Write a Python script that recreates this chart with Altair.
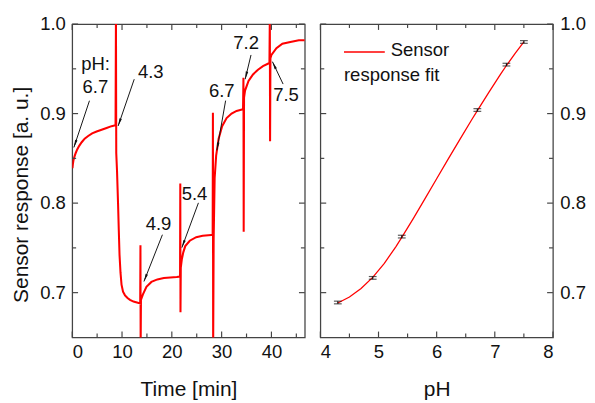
import math
import altair as alt
import pandas as pd

# ---------------- data ----------------
time_min = [0.05, 0.12, 0.25, 0.45, 0.7, 1.0, 1.4, 1.9, 2.5, 3.2, 4.0, 4.9, 5.9, 6.9, 7.9, 8.7,
            8.78, 8.84, 9.0, 9.2, 9.35, 9.5, 9.7, 9.9, 10.2, 10.6, 11.1, 11.6, 12.3, 13.0, 13.65,
            13.7, 13.74, 13.8, 14.2, 14.9, 15.9, 17.1, 18.4, 19.7, 21.0, 21.65,
            21.7, 21.74, 21.8, 22.0, 22.3, 22.7, 23.6, 24.9, 26.2, 27.9, 28.2,
            28.25, 28.3, 28.4, 28.6, 28.9, 29.4, 30.1, 31.0, 32.0, 33.0, 34.3,
            34.38, 34.43, 34.5, 34.7, 35.4, 36.3, 37.3, 38.3, 39.6,
            39.68, 39.73, 39.8, 40.0, 41.0, 42.2, 43.8, 45.5, 46.7]
response = [0.839, 0.843, 0.848, 0.852, 0.856, 0.860, 0.864, 0.868, 0.872, 0.875, 0.878, 0.880, 0.882, 0.884, 0.886, 0.887,
            1.01, 0.856, 0.835, 0.800, 0.770, 0.742, 0.722, 0.709, 0.701, 0.697, 0.694, 0.692, 0.690, 0.689, 0.688,
            0.753, 0.640, 0.692, 0.698, 0.7065, 0.712, 0.7148, 0.7163, 0.717, 0.7175, 0.718,
            0.822, 0.678, 0.728, 0.737, 0.745, 0.752, 0.758, 0.762, 0.7635, 0.7645, 0.7645,
            0.901, 0.640, 0.760, 0.828, 0.853, 0.872, 0.886, 0.895, 0.900, 0.903, 0.905,
            0.940, 0.768, 0.918, 0.9257, 0.9365, 0.9438, 0.949, 0.953, 0.9565,
            1.01, 0.869, 0.962, 0.9655, 0.973, 0.978, 0.980, 0.982, 0.982]

ph_points = [4.3, 4.9, 5.4, 6.7, 7.2, 7.5]
resp_points = [0.689, 0.7165, 0.7626, 0.904, 0.9547, 0.980]
resp_err = [0.0015, 0.0015, 0.0015, 0.0015, 0.0015, 0.0015]

fit_ph = [4.3, 4.5, 4.7, 4.9, 5.1, 5.3, 5.4, 5.6, 5.8, 6.0, 6.2, 6.4, 6.6, 6.7, 6.9, 7.1, 7.2, 7.35, 7.5]
fit_resp = [0.6885, 0.6951, 0.7047, 0.7171, 0.7327, 0.7515, 0.7618, 0.7830, 0.8050, 0.8272,
            0.8494, 0.8712, 0.8928, 0.9034, 0.9240, 0.9440, 0.9537, 0.9672, 0.9800]

ann_labels = ["pH:", "6.7", "4.3", "4.9", "5.4", "6.7", "7.2", "7.5"]
ann_t = [4.7, 4.65, 15.77, 17.33, 24.56, 30.03, 34.91, 42.93]
ann_v = [0.955, 0.930, 0.946, 0.7764, 0.8101, 0.9253, 0.9786, 0.921]

arrow_t0 = [3.46, 12.45, 18.11, 25.34, 30.8, 35.9, 42.34]
arrow_v0 = [0.9144, 0.9384, 0.7647, 0.8003, 0.9145, 0.9655, 0.933]
arrow_t1 = [0.33, 9.22, 14.4, 22.02, 29.05, 34.73, 40.2]
arrow_v1 = [0.8622, 0.8862, 0.7125, 0.7503, 0.859, 0.9384, 0.958]

time_ticks_major = [0, 10, 20, 30, 40]
time_ticks_minor = [5, 15, 25, 35, 45]
ph_ticks_major = [4, 5, 6, 7, 8]
ph_ticks_minor = [4.5, 5.5, 6.5, 7.5]
y_ticks_major = [0.7, 0.8, 0.9, 1.0]
y_ticks_minor = [0.75, 0.85, 0.95]

legend_line_ph = [4.406, 5.108]
legend_line_v = 0.9688
legend_text = ["Sensor", "response fit"]
legend_text_ph = [5.21, 4.406]
legend_text_v = [0.9705, 0.943]

# ---------------- layout / style ----------------
W, H = 239, 322
TMAX = 46.7
YMIN, YMAX = 0.65, 1.0
FONT = "Liberation Sans"
FS = 19
TFS = 21.5
AXC = "#444444"
RED = "#ff0000"

xs_time = alt.Scale(domain=[0, TMAX], nice=False, zero=False)
xs_ph = alt.Scale(domain=[4, 8], nice=False, zero=False)
ys = alt.Scale(domain=[YMIN, YMAX], nice=False, zero=False)


def tick_layers(xfield_vals_major, xfield_vals_minor, xscale):
    layers = []
    for vals, ln in ((xfield_vals_major, 6), (xfield_vals_minor, 4)):
        d = pd.DataFrame({"v": vals})
        base = alt.Chart(d).mark_rule(color=AXC, strokeWidth=1.2)
        layers.append(base.encode(x=alt.X("v:Q", scale=xscale), y=alt.value(H), y2=alt.value(H - ln)))
        layers.append(base.encode(x=alt.X("v:Q", scale=xscale), y=alt.value(0), y2=alt.value(ln)))
    for vals, ln in ((y_ticks_major, 6), (y_ticks_minor, 4)):
        d = pd.DataFrame({"v": vals})
        base = alt.Chart(d).mark_rule(color=AXC, strokeWidth=1.2)
        layers.append(base.encode(y=alt.Y("v:Q", scale=ys), x=alt.value(0), x2=alt.value(ln)))
        layers.append(base.encode(y=alt.Y("v:Q", scale=ys), x=alt.value(W), x2=alt.value(W - ln)))
    return layers


# ---------------- left panel ----------------
ts = pd.DataFrame({"t": time_min, "r": response})
line = alt.Chart(ts).mark_line(color=RED, strokeWidth=2.1, clip=True).encode(
    x=alt.X("t:Q", scale=xs_time,
            axis=alt.Axis(values=time_ticks_major, title="Time [min]", format="d")),
    y=alt.Y("r:Q", scale=ys,
            axis=alt.Axis(values=y_ticks_major, title="Sensor response [a. u.]", format=".1f",
                          orient="left", titleY=175)),
    order="t:Q",
)

ann = pd.DataFrame({"label": ann_labels, "t": ann_t, "v": ann_v})
ann_text = alt.Chart(ann).mark_text(font=FONT, fontSize=FS, color="#111111",
                                    align="center", baseline="middle").encode(
    x=alt.X("t:Q", scale=xs_time), y=alt.Y("v:Q", scale=ys), text="label:N")

arr = pd.DataFrame({"t0": arrow_t0, "v0": arrow_v0, "t1": arrow_t1, "v1": arrow_v1})
sx = W / TMAX
sy = H / (YMAX - YMIN)
arr["ang"] = [
    (math.degrees(math.atan2((b - a) * sx, (d - c) * sy)) + 360) % 360
    for a, b, c, d in zip(arrow_t0, arrow_t1, arrow_v0, arrow_v1)
]
arrow_lines = alt.Chart(arr).mark_rule(color="#111111", strokeWidth=1).encode(
    x=alt.X("t0:Q", scale=xs_time), y=alt.Y("v0:Q", scale=ys),
    x2="t1:Q", y2="v1:Q")
arrow_heads = alt.Chart(arr).mark_point(
    shape="M0,0L0.32,2L-0.32,2Z", filled=True, color="#111111", size=64, opacity=1
).encode(x=alt.X("t1:Q", scale=xs_time), y=alt.Y("v1:Q", scale=ys),
         angle=alt.Angle("ang:Q", scale=None))

left = alt.layer(line, arrow_lines, arrow_heads, ann_text,
                 *tick_layers(time_ticks_major, time_ticks_minor, xs_time)
                 ).properties(width=W, height=H)

# ---------------- right panel ----------------
fit = pd.DataFrame({"ph": fit_ph, "r": fit_resp})
fit_line = alt.Chart(fit).mark_line(color=RED, strokeWidth=1.3).encode(
    x=alt.X("ph:Q", scale=xs_ph, axis=alt.Axis(values=ph_ticks_major, title="pH", format="d")),
    y=alt.Y("r:Q", scale=ys, axis=alt.Axis(values=y_ticks_major, title=None, format=".1f",
                                           orient="right")),
)
pts = pd.DataFrame({"ph": ph_points, "r": resp_points, "e": resp_err})
pts["lo"] = pts["r"] - pts["e"]
pts["hi"] = pts["r"] + pts["e"]
err_rule = alt.Chart(pts).mark_rule(color="#111111", strokeWidth=1.2).encode(
    x=alt.X("ph:Q", scale=xs_ph), y=alt.Y("lo:Q", scale=ys), y2="hi:Q")
cap_lo = alt.Chart(pts).mark_tick(color="#111111", orient="horizontal", size=8, thickness=1.2).encode(
    x=alt.X("ph:Q", scale=xs_ph), y=alt.Y("lo:Q", scale=ys))
cap_hi = alt.Chart(pts).mark_tick(color="#111111", orient="horizontal", size=8, thickness=1.2).encode(
    x=alt.X("ph:Q", scale=xs_ph), y=alt.Y("hi:Q", scale=ys))

leg_line = alt.Chart(pd.DataFrame({"a": [legend_line_ph[0]], "b": [legend_line_ph[1]],
                                   "v": [legend_line_v]})).mark_rule(
    color=RED, strokeWidth=1.5).encode(
    x=alt.X("a:Q", scale=xs_ph), x2="b:Q", y=alt.Y("v:Q", scale=ys))
leg_text = alt.Chart(pd.DataFrame({"txt": legend_text, "ph": legend_text_ph,
                                   "v": legend_text_v})).mark_text(
    font=FONT, fontSize=FS, color="#111111", align="left", baseline="middle").encode(
    x=alt.X("ph:Q", scale=xs_ph), y=alt.Y("v:Q", scale=ys), text="txt:N")

right = alt.layer(fit_line, err_rule, cap_lo, cap_hi, leg_line, leg_text,
                  *tick_layers(ph_ticks_major, ph_ticks_minor, xs_ph)
                  ).properties(width=W, height=H)

chart = alt.hconcat(left, right, spacing=12).properties(
    padding={"left": 1, "top": 1, "right": 0, "bottom": 0}
).configure_view(
    stroke=AXC, strokeWidth=1.3
).configure_axis(
    domain=False, ticks=False, grid=False,
    labelFont=FONT, labelFontSize=FS, labelColor="#111111", labelPadding=7,
    titleFont=FONT, titleFontSize=TFS, titleFontWeight="normal", titleColor="#111111",
).configure_axisX(
    labelPadding=6, titlePadding=18
).configure_axisY(
    titlePadding=8
)

chart.save("out.html", embed_options={"renderer": "svg", "actions": False})
